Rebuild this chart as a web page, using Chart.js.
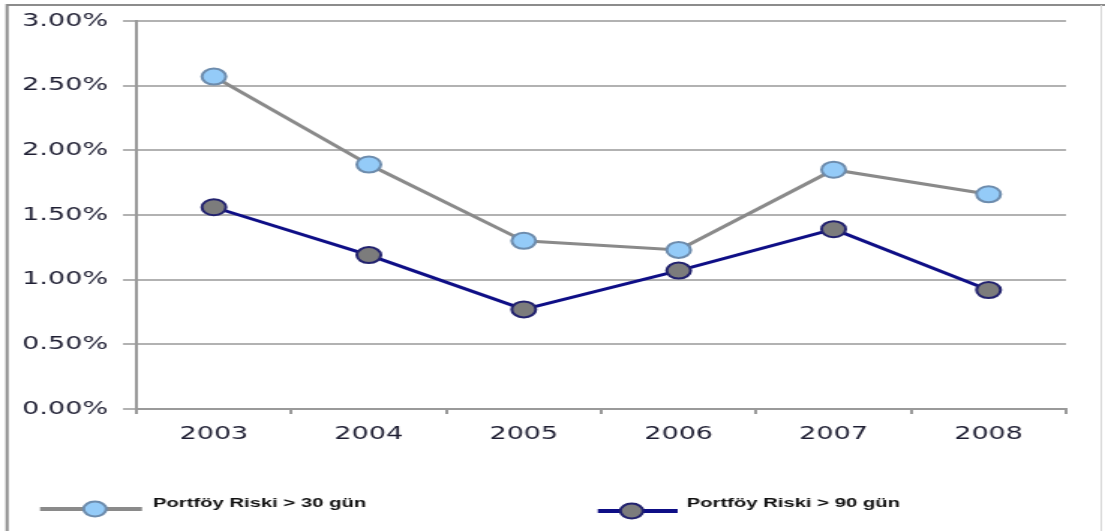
<!DOCTYPE html>
<html>
<head>
<meta charset="utf-8">
<script src="https://cdn.jsdelivr.net/npm/chart.js@4.4.1/dist/chart.umd.min.js"></script>
<style>
  html, body { margin: 0; padding: 0; background: #fff; overflow: hidden; }
  #wrap { width: 737px; height: 531px; transform: scaleX(1.4993); transform-origin: 0 0; }
</style>
</head>
<body>
<div id="wrap"><canvas id="c" width="737" height="531"></canvas></div>
<script>
// Portfolio risk ratios by year (percent)
const years = ['2003', '2004', '2005', '2006', '2007', '2008'];
const risk30 = [2.57, 1.89, 1.30, 1.23, 1.85, 1.66];
const risk90 = [1.56, 1.19, 0.77, 1.07, 1.39, 0.92];
const yTicks = [0, 0.5, 1, 1.5, 2, 2.5, 3];
const seriesNames = ['Portföy Riski > 30 gün', 'Portföy Riski > 90 gün'];

const axisFont = { family: 'DejaVu Sans', size: 18 };
const axisText = '#1f1f33';

// Frame around the whole figure
const framePlugin = {
  id: 'frame',
  beforeDraw(chart) {
    const ctx = chart.ctx;
    ctx.save();
    ctx.fillStyle = '#ffffff';
    ctx.fillRect(0, 0, chart.width, chart.height);
    ctx.strokeStyle = '#8c8c8c';
    ctx.lineWidth = 2;
    ctx.beginPath();
    ctx.moveTo(4.7, chart.height);
    ctx.lineTo(4.7, 5);
    ctx.lineTo(chart.width, 5);
    ctx.stroke();
    ctx.strokeStyle = '#d8d8d8';
    ctx.lineWidth = 1;
    ctx.beginPath();
    ctx.moveTo(734.5, 5);
    ctx.lineTo(734.5, chart.height);
    ctx.stroke();
    ctx.restore();
  }
};

// Legend row: line sample with marker, then the series name
const legendPlugin = {
  id: 'lineLegend',
  afterDraw(chart) {
    const ctx = chart.ctx;
    const items = [
      { ds: chart.data.datasets[0], x1: 26.7, x2: 94.7, mx: 63.3, y: 509, tx: 102 },
      { ds: chart.data.datasets[1], x1: 398.7, x2: 452, mx: 421.3, y: 511, tx: 458 }
    ];
    ctx.save();
    items.forEach(it => {
      ctx.strokeStyle = it.ds.borderColor;
      ctx.lineWidth = 4;
      ctx.beginPath();
      ctx.moveTo(it.x1, it.y);
      ctx.lineTo(it.x2, it.y);
      ctx.stroke();
      ctx.beginPath();
      ctx.arc(it.mx, it.y, 7.5, 0, Math.PI * 2);
      ctx.fillStyle = it.ds.pointBackgroundColor;
      ctx.fill();
      ctx.lineWidth = 2;
      ctx.strokeStyle = it.ds.pointBorderColor;
      ctx.stroke();
      ctx.fillStyle = '#111111';
      ctx.font = 'bold 13.5px "Liberation Sans"';
      ctx.textBaseline = 'middle';
      ctx.textAlign = 'left';
      ctx.fillText(it.ds.label, it.tx, 503);
    });
    ctx.restore();
  }
};

new Chart(document.getElementById('c'), {
  type: 'line',
  data: {
    labels: years,
    datasets: [
      {
        label: seriesNames[0],
        data: risk30,
        borderColor: '#8a8a8a',
        borderWidth: 3,
        pointRadius: 8,
        pointHoverRadius: 8,
        pointBorderWidth: 2,
        pointBackgroundColor: '#94cbf8',
        pointBorderColor: '#6d8cad',
        tension: 0
      },
      {
        label: seriesNames[1],
        data: risk90,
        borderColor: '#0e0e86',
        borderWidth: 3,
        pointRadius: 8,
        pointHoverRadius: 8,
        pointBorderWidth: 2,
        pointBackgroundColor: '#7c7c7c',
        pointBorderColor: '#22226e',
        tension: 0
      }
    ]
  },
  options: {
    responsive: false,
    animation: false,
    layout: { padding: { left: 5, right: 26, top: 21, bottom: 0 } },
    plugins: {
      legend: { display: false },
      tooltip: { enabled: false }
    },
    scales: {
      x: {
        offset: true,
        grid: { offset: true, drawOnChartArea: false, tickLength: 5, color: '#9a9a9a', lineWidth: 2 },
        border: { color: '#9a9a9a', width: 2 },
        ticks: { font: axisFont, color: axisText, padding: 10, maxRotation: 0 },
        afterFit(s) { s.height = 122; }
      },
      y: {
        min: 0,
        max: 3,
        afterBuildTicks(s) { s.ticks = yTicks.map(v => ({ value: v })); },
        ticks: { font: axisFont, color: axisText, padding: 10, callback: v => v.toFixed(2) + '%' },
        grid: { color: '#b2b2b2', lineWidth: 2, tickLength: 9 },
        border: { color: '#9a9a9a', width: 2 },
        afterFit(s) { s.width = 86; }
      }
    }
  },
  plugins: [framePlugin, legendPlugin]
});
</script>
</body>
</html>
